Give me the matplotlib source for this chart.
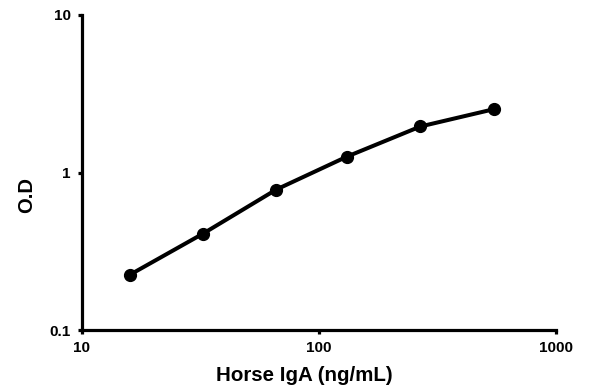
import matplotlib
matplotlib.use("Agg")
import matplotlib.pyplot as plt
from matplotlib.ticker import FixedLocator, NullLocator

# concentrations (ng/mL) and optical density
conc = [15.9, 32.4, 66.0, 131.0, 268.0, 545.0]
od = [0.224, 0.409, 0.779, 1.26, 1.96, 2.52]

x_ticks = [10, 100, 1000]
x_tick_labels = ["10", "100", "1000"]
y_ticks = [0.1, 1, 10]
y_tick_labels = ["0.1", "1", "10"]

plt.rcParams['font.family'] = ['Liberation Sans', 'DejaVu Sans']
plt.rcParams['font.weight'] = 'bold'

fig = plt.figure(figsize=(5.93, 3.90), dpi=100)
ax = fig.add_axes([82 / 593, 1 - 330 / 390, (556 - 82) / 593, (330 - 15) / 390])

ax.plot(conc, od, color='black', linewidth=2.9, marker='o', markersize=8.5,
        solid_capstyle='round', clip_on=False)

ax.set_xscale('log')
ax.set_yscale('log')
ax.set_xlim(10, 1000)
ax.set_ylim(0.1, 10)

ax.xaxis.set_major_locator(FixedLocator(x_ticks))
ax.xaxis.set_minor_locator(NullLocator())
ax.set_xticklabels(x_tick_labels)
ax.yaxis.set_major_locator(FixedLocator(y_ticks))
ax.yaxis.set_minor_locator(NullLocator())
ax.set_yticklabels(y_tick_labels)

for side in ['top', 'right']:
    ax.spines[side].set_visible(False)
for side in ['left', 'bottom']:
    ax.spines[side].set_linewidth(2.3)
    ax.spines[side].set_capstyle('projecting')

ax.tick_params(axis='both', which='major', direction='out', length=3, width=2.3,
               labelsize=11, pad=5)

ax.set_xlabel('Horse IgA (ng/mL)', fontsize=14.8, fontweight='bold')
ax.set_ylabel('O.D', fontsize=14.5, fontweight='bold')
ax.xaxis.set_label_coords((304 - 82) / (556 - 82), -(366 - 330) / (330 - 15))
ax.yaxis.set_label_coords(-(82 - 36) / (556 - 82), (330 - 195) / (330 - 15))

fig.savefig('out.png', dpi=100)
